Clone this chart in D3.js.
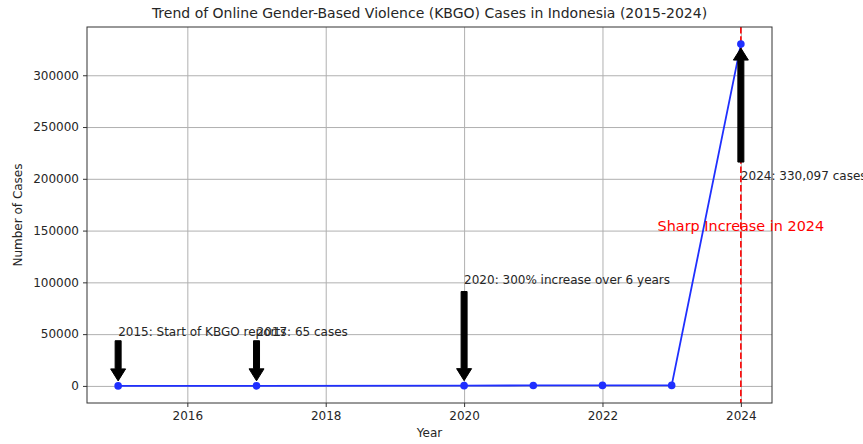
<!DOCTYPE html>
<html>
<head>
<meta charset="utf-8">
<script src="https://cdn.jsdelivr.net/npm/d3@7"></script>
<style>
  body { margin: 0; background: #fff; }
  svg { font-family: "DejaVu Sans", sans-serif; display: block; }
</style>
</head>
<body>
<svg id="chart" width="863" height="444"></svg>
<script>
const years = [2015, 2017, 2020, 2021, 2022, 2023, 2024];
const cases = [10, 65, 260, 450, 480, 500, 330097];
const xTicks = [2016, 2018, 2020, 2022, 2024];
const yTicks = [0, 50000, 100000, 150000, 200000, 250000, 300000];
const noteYears = [2015, 2017, 2020, 2024];
const noteTexts = ['2015: Start of KBGO reports', '2017: 65 cases', '2020: 300% increase over 6 years', '2024: 330,097 cases'];
const noteAt = [50000, 50000, 100000, 200000];

initChart();

function initChart() {
    const svg = d3.select('#chart');
    const m = { l: 87, r: 772, t: 27, b: 403 };

    // matplotlib-like 5% margins
    const xr = [d3.min(years), d3.max(years)];
    const yr = [d3.min(cases), d3.max(cases)];
    const xp = (xr[1] - xr[0]) * 0.05, yp = (yr[1] - yr[0]) * 0.05;
    const x = d3.scaleLinear().domain([xr[0] - xp, xr[1] + xp]).range([m.l, m.r]);
    const y = d3.scaleLinear().domain([0 - yp, yr[1] + yp]).range([m.b, m.t]);

    // grid
    svg.append('g')
        .attr('transform', 'translate(0,' + m.b + ')')
        .call(d3.axisBottom(x).tickValues(xTicks).tickSize(-(m.b - m.t)).tickFormat(''))
        .call(g => g.select('.domain').remove())
        .selectAll('line').attr('stroke', '#b0b0b0').attr('stroke-width', 1);
    svg.append('g')
        .attr('transform', 'translate(' + m.l + ',0)')
        .call(d3.axisLeft(y).tickValues(yTicks).tickSize(-(m.r - m.l)).tickFormat(''))
        .call(g => g.select('.domain').remove())
        .selectAll('line').attr('stroke', '#b0b0b0').attr('stroke-width', 1);

    // red dashed line at 2024
    svg.append('line')
        .attr('x1', x(2024)).attr('x2', x(2024))
        .attr('y1', m.t).attr('y2', m.b)
        .attr('stroke', '#ff0000').attr('stroke-width', 1.6)
        .attr('stroke-dasharray', '6.5,2.8');

    // series
    const pts = years.map((yy, i) => ({ year: yy, v: cases[i] }));
    svg.append('path')
        .attr('d', d3.line().x(d => x(d.year)).y(d => y(d.v))(pts))
        .attr('fill', 'none').attr('stroke', '#1f2fff').attr('stroke-width', 1.8);
    svg.selectAll('.dot').data(pts).enter().append('circle')
        .attr('cx', d => x(d.year)).attr('cy', d => y(d.v)).attr('r', 3.8)
        .attr('fill', '#1f2fff');

    // axes
    const xa = svg.append('g')
        .attr('transform', 'translate(0,' + m.b + ')')
        .call(d3.axisBottom(x).tickValues(xTicks).tickSize(4).tickPadding(4).tickFormat(d3.format('d')));
    const ya = svg.append('g')
        .attr('transform', 'translate(' + m.l + ',0)')
        .call(d3.axisLeft(y).tickValues(yTicks).tickSize(4).tickPadding(4).tickFormat(d3.format('d')));
    [xa, ya].forEach(a => {
        a.select('.domain').remove();
        a.selectAll('text').attr('font-size', 12).attr('fill', '#262626').attr('font-family', 'DejaVu Sans');
        a.selectAll('line').attr('stroke', '#333');
    });
    svg.append('rect')
        .attr('x', m.l).attr('y', m.t).attr('width', m.r - m.l).attr('height', m.b - m.t)
        .attr('fill', 'none').attr('stroke', '#333').attr('stroke-width', 1);

    // annotations
    noteYears.forEach((yr0, i) => {
        const v = cases[years.indexOf(yr0)];
        const tx = x(yr0), ty = y(noteAt[i]);
        svg.append('text')
            .attr('x', tx).attr('y', ty + 1.5)
            .attr('font-size', 12).attr('fill', '#262626')
            .text(noteTexts[i]);
        const py = y(v);
        const L = Math.abs(py - ty);
        if (py > ty) {
            drawArrow(svg, tx, ty + 4 + 0.05 * L, py - 5);
        } else {
            drawArrow(svg, tx, ty - 10 - 0.05 * L, py + 4);
        }
    });

    svg.append('text')
        .attr('x', x(2024)).attr('y', y(150000))
        .attr('text-anchor', 'middle')
        .attr('font-size', 14.4).attr('fill', '#ff0000')
        .text('Sharp Increase in 2024');

    // labels
    svg.append('text')
        .attr('x', (m.l + m.r) / 2).attr('y', 18)
        .attr('text-anchor', 'middle').attr('font-size', 14).attr('fill', '#262626')
        .text('Trend of Online Gender-Based Violence (KBGO) Cases in Indonesia (2015-2024)');
    svg.append('text')
        .attr('x', (m.l + m.r) / 2).attr('y', 437)
        .attr('text-anchor', 'middle').attr('font-size', 12).attr('fill', '#262626')
        .text('Year');
    svg.append('text')
        .attr('transform', 'translate(22,' + (m.t + m.b) / 2 + ') rotate(-90)')
        .attr('text-anchor', 'middle').attr('font-size', 12).attr('fill', '#262626')
        .text('Number of Cases');
}

function drawArrow(svg, cx, y0, y1) {
    const dir = y1 > y0 ? 1 : -1;
    const sw = 3, hw = 7.5, hl = 12;
    const hb = y1 - dir * hl;
    const pts = [
        [cx - sw, y0], [cx + sw, y0], [cx + sw, hb], [cx + hw, hb],
        [cx, y1], [cx - hw, hb], [cx - sw, hb]
    ];
    svg.append('polygon')
        .attr('points', pts.map(p => p.join(',')).join(' '))
        .attr('fill', '#000').attr('stroke', '#000').attr('stroke-width', 1);
}
</script>
</body>
</html>
